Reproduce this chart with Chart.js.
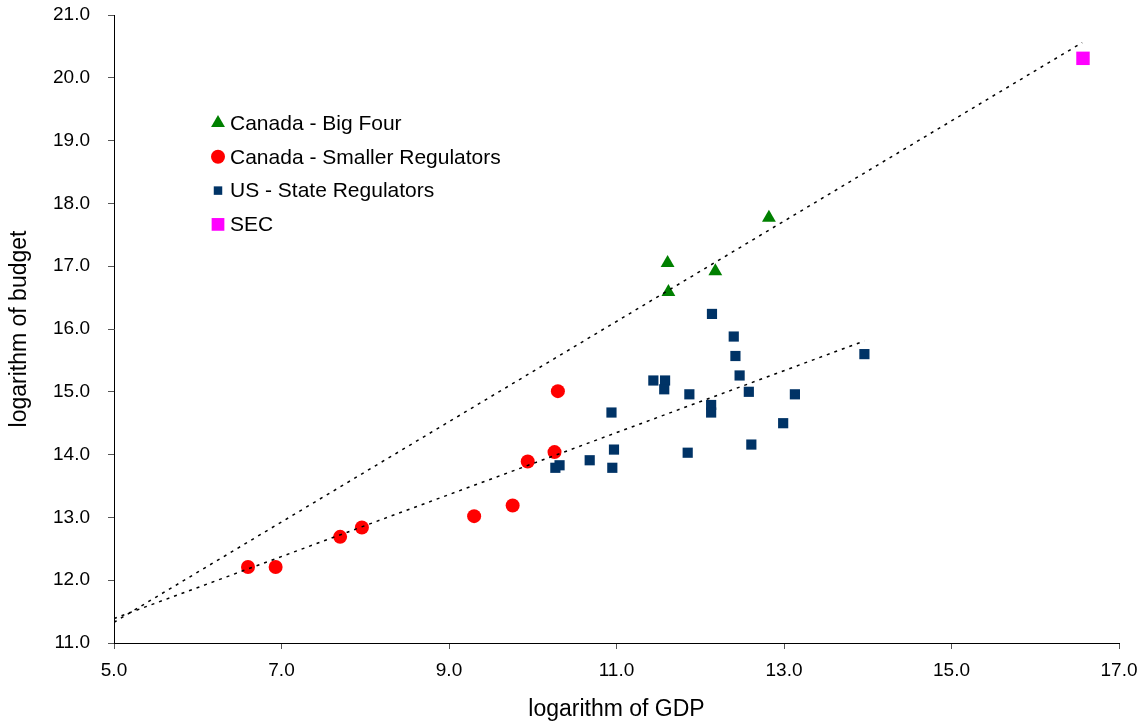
<!DOCTYPE html>
<html>
<head>
<meta charset="utf-8">
<title>Regulator budget vs GDP</title>
<script src="https://cdn.jsdelivr.net/npm/chart.js@4.4.1/dist/chart.umd.min.js"></script>
<style>
  html, body { margin: 0; padding: 0; background: #fff; }
  #wrap { width: 1143px; height: 725px; position: relative; }
</style>
</head>
<body>
<div id="wrap"><canvas id="chart"></canvas></div>
<script>
// log GDP / log budget per regulator group
const bigFourGdp = [11.61, 11.62, 12.18, 12.82];
const bigFourBudget = [17.05, 16.59, 16.92, 17.77];

const smallerGdp = [6.60, 6.93, 7.70, 7.96, 9.30, 9.76, 9.94, 10.26, 10.30];
const smallerBudget = [12.21, 12.21, 12.69, 12.84, 13.02, 13.19, 13.89, 14.04, 15.01];

const stateGdp = [12.14, 12.40, 12.42, 12.47, 11.44, 11.58, 11.57, 11.87, 12.58, 13.13, 13.96,
                  12.13, 12.13, 10.94, 12.99, 12.61, 10.97, 11.85, 10.68, 10.95, 10.32, 10.27];
const stateBudget = [16.24, 15.88, 15.57, 15.26, 15.18, 15.18, 15.04, 14.96, 15.00, 14.96, 15.60,
                     14.79, 14.67, 14.67, 14.50, 14.16, 14.08, 14.03, 13.91, 13.79, 13.83, 13.79];

const secGdp = [16.57];
const secBudget = [20.31];

// trend lines (start / end)
const upperTrendGdp = [5.0, 16.56];
const upperTrendBudget = [11.33, 20.56];
const lowerTrendGdp = [5.0, 13.96];
const lowerTrendBudget = [11.39, 15.81];

const xTicks = { min: 5, max: 17, step: 2 };
const yTicks = { min: 11, max: 21, step: 1 };

const toPoints = (xs, ys) => xs.map((x, i) => ({ x: x, y: ys[i] }));

const FONT = '"Liberation Sans", Arial, sans-serif';
Chart.defaults.font.family = FONT;
Chart.defaults.color = '#000';

const trendStyle = {
    showLine: true,
    borderColor: '#000',
    borderWidth: 1.5,
    borderDash: [3, 5],
    pointRadius: 0,
    fill: false,
    inLegend: false
};

// legend drawn inside the plot area, left side
const insideLegend = {
    id: 'insideLegend',
    afterDraw(chart) {
        const ctx = chart.ctx;
        const items = chart.data.datasets.filter(d => d.inLegend !== false);
        const x0 = 218, y0 = 123, rowGap = 33.8;
        ctx.save();
        ctx.font = '21px ' + FONT;
        ctx.textBaseline = 'middle';
        ctx.textAlign = 'left';
        items.forEach((d, i) => {
            const y = y0 + i * rowGap;
            ctx.fillStyle = d.backgroundColor;
            ctx.strokeStyle = d.backgroundColor;
            Chart.helpers.drawPoint(ctx, {
                pointStyle: d.pointStyle,
                radius: d.legendRadius,
                rotation: 0,
                borderWidth: 0
            }, x0, y);
            ctx.fillStyle = '#000';
            ctx.fillText(d.label, x0 + 12, y + 1);
        });
        ctx.restore();
    }
};

const ctx = document.getElementById('chart').getContext('2d');
new Chart(ctx, {
    type: 'scatter',
    data: {
        datasets: [
            Object.assign({ data: toPoints(upperTrendGdp, upperTrendBudget) }, trendStyle),
            Object.assign({ data: toPoints(lowerTrendGdp, lowerTrendBudget) }, trendStyle),
            {
                label: 'Canada - Big Four',
                data: toPoints(bigFourGdp, bigFourBudget),
                pointStyle: 'triangle',
                pointRadius: 8,
                legendRadius: 8,
                backgroundColor: '#008000',
                borderColor: '#008000',
                borderWidth: 0
            },
            {
                label: 'Canada - Smaller Regulators',
                data: toPoints(smallerGdp, smallerBudget),
                pointStyle: 'circle',
                pointRadius: 7,
                legendRadius: 7,
                backgroundColor: '#ff0000',
                borderColor: '#ff0000',
                borderWidth: 0
            },
            {
                label: 'US - State Regulators',
                data: toPoints(stateGdp, stateBudget),
                pointStyle: 'rect',
                pointRadius: 7.2,
                legendRadius: 6,
                backgroundColor: '#003366',
                borderColor: '#003366',
                borderWidth: 0
            },
            {
                label: 'SEC',
                data: toPoints(secGdp, secBudget),
                pointStyle: 'rect',
                pointRadius: 9.5,
                legendRadius: 9,
                backgroundColor: '#ff00ff',
                borderColor: '#ff00ff',
                borderWidth: 0
            }
        ]
    },
    options: {
        responsive: true,
        maintainAspectRatio: false,
        animation: false,
        layout: { padding: { top: 15, right: 24, bottom: 0, left: 0 } },
        plugins: {
            legend: { display: false },
            tooltip: { enabled: false }
        },
        scales: {
            x: {
                type: 'linear',
                min: xTicks.min,
                max: xTicks.max,
                afterFit: (scale) => {
                    scale.height = 82;
                    scale.paddingLeft = 0;
                    scale.paddingRight = 0;
                },
                border: { display: true, color: '#000', width: 1 },
                grid: { drawOnChartArea: false, drawTicks: true, tickLength: 6, color: '#555' },
                ticks: {
                    stepSize: xTicks.step,
                    padding: 10,
                    font: { size: 19 },
                    callback: (v) => v.toFixed(1)
                },
                title: {
                    display: true,
                    text: 'logarithm of GDP',
                    font: { size: 23 },
                    padding: { top: 0, bottom: 2 }
                }
            },
            y: {
                type: 'linear',
                min: yTicks.min,
                max: yTicks.max,
                afterFit: (scale) => {
                    scale.width = 114;
                    scale.paddingTop = 0;
                    scale.paddingBottom = 0;
                },
                border: { display: true, color: '#000', width: 1 },
                grid: { drawOnChartArea: false, drawTicks: true, tickLength: 6, color: '#555' },
                ticks: {
                    stepSize: yTicks.step,
                    padding: 18,
                    font: { size: 19 },
                    callback: (v) => v.toFixed(1)
                },
                title: {
                    display: true,
                    text: 'logarithm of budget',
                    font: { size: 23 },
                    padding: { top: 6, bottom: 0 }
                }
            }
        }
    },
    plugins: [insideLegend]
});
</script>
</body>
</html>
